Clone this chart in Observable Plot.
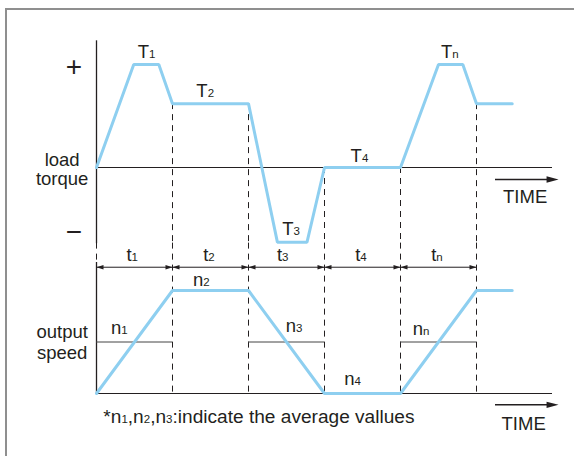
<!DOCTYPE html>
<html><head><meta charset="utf-8">
<script src="https://cdn.jsdelivr.net/npm/d3@7"></script>
<script src="https://cdn.jsdelivr.net/npm/@observablehq/plot@0.6"></script>
<style>
body{margin:0;background:#fff;}
#wrap{position:relative;width:574px;height:456px;overflow:hidden;background:#fff;}
#frame{position:absolute;left:5px;top:8px;width:700px;height:600px;border-top:2px solid #8f8f8f;border-left:2px solid #8f8f8f;z-index:2;pointer-events:none;}
#wrap svg{display:block;}
</style></head>
<body><div id="wrap"><div id="frame"></div></div>
<script>
// ---------- data ----------
const boundaries = [0, 1, 2, 3, 4, 5];          // interval boundaries (time units)
const intervalNames = ["t_1", "t_2", "t_3", "t_4", "t_n"];
const intervalLabelTime = [0.47, 1.48, 2.45, 3.48, 4.48];
const timeAxisEnd = 6.0;

// load torque profile
const torqueTime  = [0, 0.49, 0.82, 1, 2, 2.38, 2.77, 3, 4, 4.5, 4.82, 5, 5.47];
const torqueValue = [0, 1, 1, 0.62, 0.62, -0.725, -0.725, 0, 0, 1, 1, 0.62, 0.62];
const torqueNames = ["T_1", "T_2", "T_3", "T_4", "T_n"];
const torqueLabelTime  = [0.66, 1.43, 2.56, 3.46, 4.65];
const torqueLabelValue = [1.12, 0.74, -0.60, 0.11, 1.12];

// output speed profile
const speedTime  = [0, 1, 2, 3, 4, 5, 5.47];
const speedValue = [0, 1, 1, 0, 0, 1, 1];
const speedNames = ["n_1", "n_2", "n_3", "n_4", "n_n"];
const speedLabelTime  = [0.30, 1.38, 2.60, 3.37, 4.27];
const speedLabelValue = [0.64, 1.10, 0.65, 0.14, 0.63];

// average speed lines
const avgStart = [0, 2, 4];
const avgEnd   = [1, 3, 5];
const avgValue = [0.5, 0.5, 0.5];

const footnote = "*n_1,n_2,n_3:indicate the average vallues";

// ---------- style ----------
const ink = "#231f20";
const blue = "#8ecff0";
const font = "'Liberation Sans', Arial, sans-serif";
const fs = 18.5, subFs = 11.5;

// ---------- tables ----------
const torqueLine = torqueTime.map((t, i) => ({t, v: torqueValue[i]}));
const speedLine = speedTime.map((t, i) => ({t, v: speedValue[i]}));
const torqueAt = b => torqueValue[torqueTime.indexOf(b)];
const dashTop = boundaries.slice(1).map(b => ({t: b, v: torqueAt(b)}));
const intervals = d3.pairs(boundaries).map(([a, b], i) => ({a, b, name: intervalNames[i], lt: intervalLabelTime[i]}));
const tLabels = torqueNames.map((name, i) => ({name, t: torqueLabelTime[i], v: torqueLabelValue[i]}));
const nLabels = speedNames.map((name, i) => ({name, t: speedLabelTime[i], v: speedLabelValue[i]}));
const avgs = avgStart.map((a, i) => ({a, b: avgEnd[i], v: avgValue[i]}));

const txt = {fontFamily: font, fontSize: fs, fill: ink};

function subscripts(svg) {
  d3.select(svg).selectAll("text").each(function () {
    const s = this.textContent;
    if (!s.includes("_") || this.querySelector("tspan")) return;
    const el = d3.select(this);
    el.text(null);
    s.split(/_(\w)/).forEach((p, i) => {
      if (!p) return;
      const ts = el.append("tspan").text(p);
      if (i % 2 === 1) ts.attr("font-size", subFs);
    });
  });
  return svg;
}

// ---------- top panel: load torque ----------
const torquePanel = Plot.plot({
  width: 574, height: 244, margin: 0,
  style: {background: "transparent", overflow: "visible"},
  x: {domain: [0, 5], range: [96, 476], axis: null},
  y: {domain: [0, 1], range: [167, 64], axis: null},
  marks: [
    Plot.ruleX([{t: 0, y1: 1.23, y2: -0.74}], {x: "t", y1: "y1", y2: "y2", stroke: ink, strokeWidth: 1.3}),
    Plot.ruleY([{v: 0, x1: 0, x2: timeAxisEnd}], {y: "v", x1: "x1", x2: "x2", stroke: ink, strokeWidth: 1}),
    Plot.ruleX(dashTop, {x: "t", y1: "v", y2: () => -0.76, stroke: ink, strokeWidth: 1, strokeDasharray: "6,5"}),
    Plot.line(torqueLine, {x: "t", y: "v", stroke: blue, strokeWidth: 3, strokeLinejoin: "miter"}),
    Plot.text(tLabels, {x: "t", y: "v", text: "name", ...txt}),
    Plot.text([{s: "+", t: -0.296, v: 0.98}, {s: "\u2212", t: -0.296, v: -0.63}], {x: "t", y: "v", text: "s", fontFamily: font, fontSize: 28, fill: ink}),
    Plot.text([{s: "load\ntorque", t: -0.452, v: -0.02}], {x: "t", y: "v", text: "s", lineHeight: 1.05, ...txt}),
    Plot.ruleY([{v: -0.117, x1: 5.25, x2: 6.0}], {y: "v", x1: "x1", x2: "x2", stroke: ink, strokeWidth: 1.5}),
    Plot.vector([{t: 6.08, v: -0.117}], {x: "t", y: "v", rotate: 90, length: 12, r: 3.2, shape: "spike", anchor: "end", fill: ink, stroke: "none"}),
    Plot.text([{s: "TIME", t: 5.64, v: -0.29}], {x: "t", y: "v", text: "s", ...txt})
  ]
});

// ---------- bottom panel: output speed ----------
const arrowRow = 1.226;
const speedPanel = Plot.plot({
  width: 574, height: 212, margin: 0,
  style: {background: "transparent", overflow: "visible"},
  x: {domain: [0, 5], range: [96, 476], axis: null},
  y: {domain: [0, 1], range: [149, 46], axis: null},
  marks: [
    Plot.ruleX([{t: 0, y1: 1.46, y2: 1.272}], {x: "t", y1: "y1", y2: "y2", stroke: ink, strokeWidth: 1, strokeDasharray: "6,5"}),
    Plot.ruleX(boundaries.slice(1), {x: d => d, y1: () => 1.46, y2: () => 0, stroke: ink, strokeWidth: 1, strokeDasharray: "6,5"}),
    Plot.ruleX([{t: 0, y1: 1.272, y2: 0}], {x: "t", y1: "y1", y2: "y2", stroke: ink, strokeWidth: 1.3}),
    Plot.ruleY([{v: 0, x1: 0, x2: timeAxisEnd}], {y: "v", x1: "x1", x2: "x2", stroke: ink, strokeWidth: 1}),
    Plot.ruleY(avgs, {y: "v", x1: "a", x2: "b", stroke: "#444", strokeWidth: 1}),
    Plot.line(speedLine, {x: "t", y: "v", stroke: blue, strokeWidth: 3, strokeLinejoin: "miter"}),
    Plot.ruleY(intervals, {y: () => arrowRow, x1: "a", x2: "b", stroke: ink, strokeWidth: 1}),
    Plot.vector(intervals, {x: "a", y: () => arrowRow, rotate: -90, length: 7, r: 2.2, shape: "spike", anchor: "end", fill: ink, stroke: "none"}),
    Plot.vector(intervals, {x: "b", y: () => arrowRow, rotate: 90, length: 7, r: 2.2, shape: "spike", anchor: "end", fill: ink, stroke: "none"}),
    Plot.text(intervals, {x: "lt", y: () => 1.34, text: "name", ...txt}),
    Plot.text(nLabels, {x: "t", y: "v", text: "name", ...txt}),
    Plot.text([{s: "output\nspeed", t: -0.452, v: 0.50}], {x: "t", y: "v", text: "s", lineHeight: 1.13, ...txt}),
    Plot.text([{s: footnote, t: 0.09, v: -0.223}], {x: "t", y: "v", text: "s", textAnchor: "start", fontFamily: font, fontSize: 19.1, fill: ink}),
    Plot.ruleY([{v: -0.11, x1: 5.25, x2: 6.0}], {y: "v", x1: "x1", x2: "x2", stroke: ink, strokeWidth: 1.5}),
    Plot.vector([{t: 6.08, v: -0.11}], {x: "t", y: "v", rotate: 90, length: 12, r: 3.2, shape: "spike", anchor: "end", fill: ink, stroke: "none"}),
    Plot.text([{s: "TIME", t: 5.62, v: -0.30}], {x: "t", y: "v", text: "s", ...txt})
  ]
});

const wrap = document.getElementById("wrap");
wrap.appendChild(subscripts(torquePanel));
wrap.appendChild(subscripts(speedPanel));
</script>
</body></html>
